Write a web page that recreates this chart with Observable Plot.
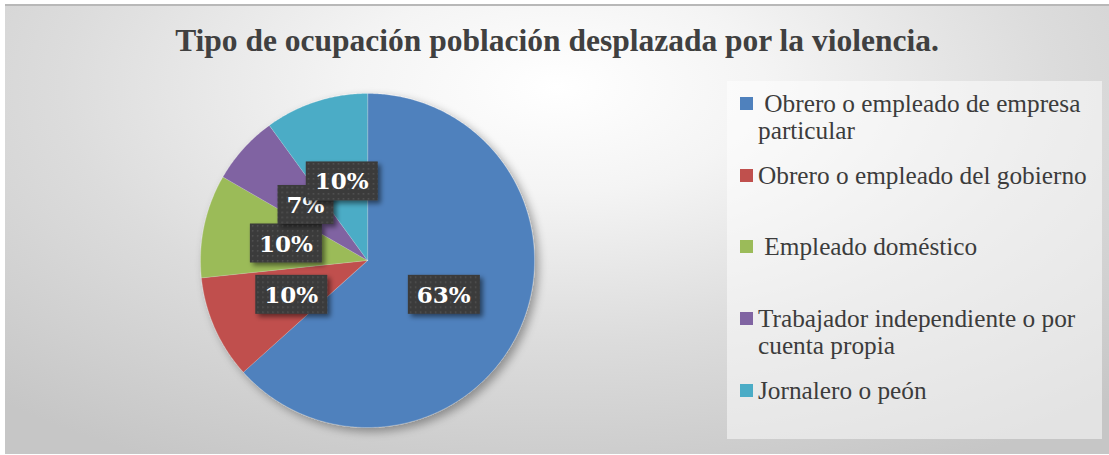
<!DOCTYPE html>
<html><head><meta charset="utf-8">
<script src="https://cdn.jsdelivr.net/npm/d3@7"></script>
<script src="https://cdn.jsdelivr.net/npm/@observablehq/plot@0.6"></script>
<style>
body{margin:0;background:#fff;}
#chart{position:relative;width:1109px;height:455px;overflow:hidden;}
#bg{position:absolute;left:5px;top:4px;width:1104px;height:450px;box-sizing:border-box;border-top:2px solid #b8b8b8;
  background:radial-gradient(ellipse 75% 95% at 50% 18%, #ffffff 0%, #f4f4f4 25%, #dcdcdc 60%, #c6c6c6 100%);}
#title{position:absolute;left:5px;width:1104px;top:23px;line-height:36px;text-align:center;font-family:"Liberation Serif",serif;font-weight:bold;font-size:31.5px;color:#404040;white-space:nowrap;}
#legend{position:absolute;left:727px;top:81px;width:375px;height:358px;background:rgba(255,255,255,0.5);}
.item{position:absolute;left:13px;width:350px;}
.sw{position:absolute;left:0;width:13px;height:13px;}
.lt{position:absolute;left:18px;width:342px;font-family:"Liberation Serif",serif;font-size:25.3px;line-height:26.5px;color:#3c3c3c;white-space:pre-wrap;}
#plot{position:absolute;left:0;top:0;}
</style></head>
<body>
<div id="chart">
  <div id="bg"></div>
  <div id="plot"></div>
  <div id="title"></div>
  <div id="legend"></div>
</div>
<script>
const title = "Tipo de ocupación población desplazada por la violencia.";
const categories = [" Obrero o empleado de empresa particular", "Obrero o empleado del gobierno", " Empleado doméstico", "Trabajador independiente o por cuenta propia", "Jornalero o peón"];
const values = [19, 3, 3, 2, 3];
const colors = ["#4F81BD", "#C0504D", "#9BBB59", "#8064A2", "#4BACC6"];

document.getElementById("title").textContent = title;

const total = d3.sum(values);
const pie = d3.pie().sort(null).value(d => d.value)(categories.map((c, i) => ({cat: c, value: values[i]})));

// slice outlines in unit coordinates (angle clockwise from top)
const slicePts = [];
pie.forEach(s => {
  slicePts.push({cat: s.data.cat, x: 0, y: 0});
  const n = Math.max(2, Math.ceil((s.endAngle - s.startAngle) / 0.01));
  for (let k = 0; k <= n; k++) {
    const a = s.startAngle + (s.endAngle - s.startAngle) * k / n;
    slicePts.push({cat: s.data.cat, x: Math.sin(a), y: Math.cos(a)});
  }
});
const labels = pie.map(s => {
  const a = (s.startAngle + s.endAngle) / 2;
  return {cat: s.data.cat, x: 0.5 * Math.sin(a), y: 0.5 * Math.cos(a), text: Math.round(s.data.value / total * 100) + "%"};
});

const plot = Plot.plot({
  width: 1109, height: 455, margin: 0,
  style: {background: "transparent", overflow: "visible"},
  x: {domain: [-1, 1], range: [200, 534], axis: null},
  y: {domain: [-1, 1], range: [427, 93], axis: null},
  color: {domain: categories, range: colors},
  marks: [
    Plot.line(slicePts, {x: "x", y: "y", z: "cat", fill: "cat", stroke: "#ffffff", strokeOpacity: 0.35, strokeWidth: 0.6, curve: "linear-closed"}),
    Plot.text(labels, {x: "x", y: "y", text: "text", fill: "#ffffff", fontSize: 23, fontWeight: "bold", fontFamily: "DejaVu Serif", dy: 1})
  ]
});
document.getElementById("plot").appendChild(plot);

// defs: shadows and texture
const ns = "http://www.w3.org/2000/svg";
const defs = document.createElementNS(ns, "defs");
defs.innerHTML = `
<filter id="pieShadow" x="-20%" y="-20%" width="150%" height="150%">
  <feGaussianBlur in="SourceAlpha" stdDeviation="5"/>
  <feOffset dx="4" dy="4" result="b"/>
  <feComponentTransfer><feFuncA type="linear" slope="0.35"/></feComponentTransfer>
  <feMerge><feMergeNode/><feMergeNode in="SourceGraphic"/></feMerge>
</filter>
<filter id="boxShadow" x="-20%" y="-30%" width="150%" height="170%">
  <feGaussianBlur in="SourceAlpha" stdDeviation="2.5"/>
  <feOffset dx="3" dy="3"/>
  <feComponentTransfer><feFuncA type="linear" slope="0.5"/></feComponentTransfer>
  <feMerge><feMergeNode/><feMergeNode in="SourceGraphic"/></feMerge>
</filter>
<pattern id="dots" width="5" height="5" patternUnits="userSpaceOnUse">
  <rect width="5" height="5" fill="#3a3a3a"/>
  <rect x="1" y="1" width="1.5" height="1.5" fill="#565656"/>
</pattern>`;
plot.insertBefore(defs, plot.firstChild);

const lineG = plot.querySelector('g[aria-label="line"]');
if (lineG) lineG.setAttribute("filter", "url(#pieShadow)");

const textG = plot.querySelector('g[aria-label="text"]');
if (textG) {
  Array.from(textG.querySelectorAll("text")).forEach(t => {
    const b = t.getBBox();
    const w = b.width + 18, h = 39;
    const cx = b.x + b.width / 2, cy = b.y + b.height / 2;
    const r = document.createElementNS(ns, "rect");
    r.setAttribute("x", cx - w / 2);
    r.setAttribute("y", cy - h / 2);
    r.setAttribute("width", w);
    r.setAttribute("height", h);
    r.setAttribute("fill", "url(#dots)");
    r.setAttribute("filter", "url(#boxShadow)");
    const tr = t.getAttribute("transform");
    if (tr) r.setAttribute("transform", tr);
    t.parentNode.insertBefore(r, t);
  });
}

// legend
const legend = document.getElementById("legend");
categories.forEach((c, i) => {
  const it = document.createElement("div");
  it.className = "item";
  it.style.top = (9 + 71.7 * i) + "px";
  const sw = document.createElement("div");
  sw.className = "sw";
  sw.style.background = colors[i];
  sw.style.top = "7px";
  const lt = document.createElement("div");
  lt.className = "lt";
  lt.textContent = c;
  it.appendChild(sw); it.appendChild(lt);
  legend.appendChild(it);
});
</script>
</body></html>
